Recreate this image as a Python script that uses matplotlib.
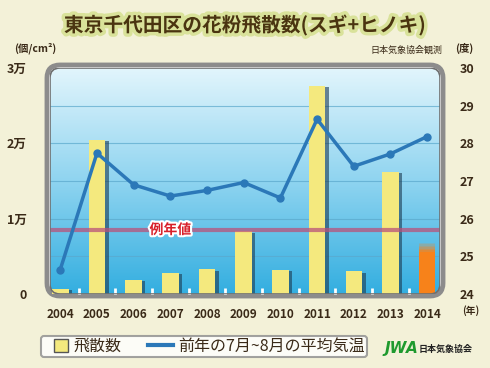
import numpy as np
import matplotlib
matplotlib.use('Agg')
import matplotlib.pyplot as plt
import matplotlib.patheffects as pe
from matplotlib.patches import FancyBboxPatch, Patch
from matplotlib.lines import Line2D

plt.rcParams['font.family'] = ['Noto Sans CJK JP', 'DejaVu Sans']

years = ['2004', '2005', '2006', '2007', '2008', '2009', '2010', '2011', '2012', '2013', '2014']
pollen = [650, 20500, 1900, 2800, 3300, 8300, 3250, 27600, 3000, 16200, 6800]
temp = [24.65, 27.74, 26.9, 26.6, 26.75, 26.96, 26.55, 28.64, 27.39, 27.72, 28.18]
normal = 8500

bg = '#f3f1d8'
fig = plt.figure(figsize=(4.9, 3.68), dpi=100, facecolor=bg)
ax = fig.add_axes([50/490, 74/368, 390/490, 226/368])
ax.set_facecolor('none')
for s in ax.spines.values():
    s.set_visible(False)

x = np.arange(len(years))
ax.set_xlim(-0.28, 10.35)
ax.set_ylim(0, 30000)

# rounded frame + gradient background
inch = fig.dpi_scale_trans
outer = FancyBboxPatch((0.47, 0.72), 3.96, 2.31, boxstyle='round,pad=0,rounding_size=0.13',
                       transform=inch, fc='#f6f6f6', ec='#8c8c8c', lw=3.5, zorder=-5)
fig.patches.append(outer)
clip = FancyBboxPatch((0.5, 0.74), 3.9, 2.26, boxstyle='round,pad=0,rounding_size=0.1',
                      transform=inch, fc='none', ec='#707070', lw=1.2, zorder=5)
grad = np.linspace(1, 0, 256).reshape(-1, 1)
cmap = matplotlib.colors.LinearSegmentedColormap.from_list('sky', ['#33aee0', '#8fd4f0', '#e2f5fc'])
im = ax.imshow(grad, aspect='auto', cmap=cmap, extent=[-0.28, 10.35, 0, 30000], origin='upper', zorder=0)
ax.add_patch(clip)
im.set_clip_path(clip)

for yv in range(5000, 30000, 5000):
    ax.axhline(yv, color='#5aa8cc', lw=0.8, alpha=0.7, zorder=1)

shadow = [pe.SimplePatchShadow(offset=(2.5, -1), shadow_rgbFace='#1c3a50', alpha=0.6), pe.Normal()]
cols = ['#f4e97e'] * (len(years) - 1) + ['#f7821a']
bars = ax.bar(x, pollen, width=0.45, color=cols, zorder=2)
for b in bars[:-1]:
    b.set_path_effects(shadow)
# blurred top of the forecast bar
bars[-1].set_height(pollen[-1] - 1200)
for k in range(6):
    ax.bar(x[-1], 200, bottom=pollen[-1] - 1200 + k * 200, width=0.45,
           color='#f7821a', alpha=0.85 - k * 0.14, lw=0, zorder=2)

ax.axhline(normal, color='#b9527a', lw=3, alpha=0.75, zorder=3)
ax.text(3.0, normal, '例年値', color='#d8202a', fontsize=10, fontweight='bold',
        ha='center', va='center', zorder=4,
        path_effects=[pe.withStroke(linewidth=3, foreground='white')])

ax.set_yticks([0, 10000, 20000, 30000])
ax.set_yticklabels(['0', '1万', '2万', '3万'])
ax.set_xticks(x)
ax.set_xticklabels(years)
ax.set_xticks(x[:-1] + 0.5, minor=True)
ax.tick_params(axis='y', length=0, pad=17, labelsize=9, labelcolor='#3a2a18')
ax.tick_params(axis='x', which='major', length=0, pad=10, labelsize=8.5, labelcolor='#3a2a18')
ax.tick_params(axis='x', which='minor', direction='in', length=4, width=2, color='white')
for t in ax.get_xticklabels() + ax.get_yticklabels():
    t.set_fontweight('bold')

ax2 = ax.twinx()
ax2.set_ylim(24, 30)
for s in ax2.spines.values():
    s.set_visible(False)
ax2.plot(x, temp, color='#2b78b8', lw=2.5, marker='o', ms=5, zorder=6, clip_on=False)
ax2.set_yticks(range(24, 31))
ax2.tick_params(axis='y', length=0, pad=14, labelsize=9, labelcolor='#3a2a18')
for t in ax2.get_yticklabels():
    t.set_fontweight('bold')

# titles / annotations
fig.text(0.5, 0.932, '東京千代田区の花粉飛散数(スギ+ヒノキ)', ha='center', va='center',
         fontsize=14.2, fontweight='bold', color='#4a3410',
         path_effects=[pe.withStroke(linewidth=5, foreground='#d9e29a')])
fig.text(14/490, 1 - 48/368, '(個/cm²)', fontsize=7.5, fontweight='bold', color='#3a2a18', va='center')
fig.text(442/490, 1 - 50/368, '日本気象協会観測', fontsize=6.5, color='#3a2a18', ha='right', va='center')
fig.text(455/490, 1 - 48/368, '(度)', fontsize=7.5, fontweight='bold', color='#3a2a18', va='center')
fig.text(462/490, 1 - 311/368, '(年)', fontsize=7, fontweight='bold', color='#3a2a18', va='center')

handles = [Patch(fc='#f4e97e', ec='#555555', lw=1),
           Line2D([], [], color='#2b78b8', lw=3)]
leg = fig.legend(handles, ['飛散数', '前年の7月~8月の平均気温'], ncol=2, loc='center',
                 bbox_to_anchor=(33/490, 8/368, 342/490, 27/368), mode='expand',
                 fontsize=11.5, frameon=True, fancybox=True, edgecolor='#8c8c8c',
                 handlelength=1.6, handleheight=0.8, handletextpad=0.3, columnspacing=1.5,
                 borderpad=0.15, labelcolor='#3a2a18')
leg.get_frame().set_linewidth(1.5)
leg.get_frame().set_facecolor('white')
sq = leg.legend_handles[0]
sq.set_x(8)
sq.set_width(10)

fig.text(385/490, 1 - 349/368, 'JWA', fontsize=11, fontweight='bold', style='italic',
         color='#1f9a2e', va='center', family='DejaVu Sans')
fig.text(419/490, 1 - 349/368, '日本気象協会', fontsize=6.5, fontweight='bold', color='#222222', va='center')

fig.savefig('out.png', dpi=100, facecolor=bg)
